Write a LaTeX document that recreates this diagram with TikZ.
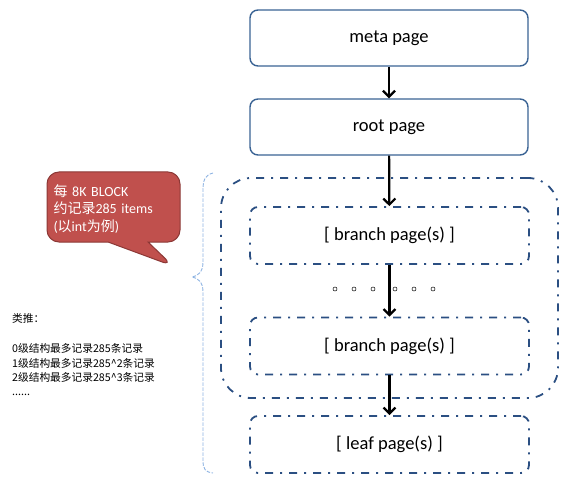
\documentclass[tikz,border=0pt]{standalone}
\usepackage{fontspec}
\setmainfont{Carlito}
\newfontfamily\cjkfont{Noto Sans CJK SC}
\usetikzlibrary{arrows.meta}
\usetikzlibrary{shapes.callouts}
\definecolor{boxline}{HTML}{3A6394}
\definecolor{dashline}{HTML}{2B4F82}
\definecolor{bracecol}{HTML}{8DB3E2}
\definecolor{callfill}{HTML}{C0504D}
\definecolor{callline}{HTML}{8C3836}
\newcommand{\zh}[1]{{\cjkfont #1}}

\begin{document}
\begin{tikzpicture}[
  x=1pt, y=-1pt,
  font=\fontsize{18.5}{22}\selectfont,
  pagebox/.style={draw=boxline, line width=1.4pt, rounded corners=8pt,
    minimum width=278pt, minimum height=56pt, fill=white},
  dashbox/.style={draw=dashline, line width=1.8pt, rounded corners=8pt,
    minimum width=279pt, minimum height=57pt,
    dash pattern=on 8pt off 7pt on 2pt off 7pt},
  arrow/.style={-{Straight Barb[length=6pt,width=12pt]}, line width=2.2pt, black},
  dotmark/.style={circle, draw, line width=0.5pt, inner sep=0pt, minimum size=4pt}
]
\useasboundingbox (0,0) rectangle (568,500);

% outer group of branch levels
\node[draw=dashline, line width=1.8pt, rounded corners=30pt,
  dash pattern=on 8pt off 7pt on 2pt off 7pt,
  minimum width=337pt, minimum height=220pt] (group) at (389.5,288) {};

% page boxes
\node[pagebox] (meta) at (389,38) {meta page};
\node[pagebox] (root) at (389,127) {root page};
\node[dashbox] (branchA) at (389.5,235.5) {[ branch page(s) ]};
\node[dashbox] (branchB) at (389.5,346) {[ branch page(s) ]};
\node[dashbox] (leaf) at (389.5,444.5) {[ leaf page(s) ]};

\draw[arrow] (meta) -- (root);
\draw[arrow] (root) -- (branchA);
\draw[arrow] (branchA) -- (branchB);
\draw[arrow] (branchB) -- (leaf);

% dots between branch levels
\foreach \dx [count=\i] in {335,354,373,395,414,433}
  \node[dotmark] (dot\i) at (\dx,289) {};

% brace on the left
\draw[bracecol, line width=0.9pt, dash pattern=on 3.5pt off 1.5pt]
  (213,173) .. controls (205,175) and (203,180) .. (203,190)
  -- (203,262) .. controls (203,272) and (198,276) .. (192,277)
  .. controls (198,278) and (203,282) .. (203,292)
  -- (203,460) .. controls (203,469) and (205,472) .. (213,473);

% callout
\node[rectangle callout, fill=callfill, draw=callline, line width=1pt,
  rounded corners=12pt, minimum width=133pt, minimum height=70pt,
  callout absolute pointer={(173,266)}, callout pointer width=40pt,
  text=white, align=left, text width=120pt, inner sep=0pt,
  font=\fontsize{14}{17.5}\selectfont] (note) at (113.5,207)
  {\rule{0pt}{15pt}\zh{每} 8K BLOCK\\\zh{约记录}285 items\\(\zh{以}int\zh{为例})};

% left text
\node[anchor=north west, align=left, inner sep=0pt,
  font=\cjkfont\fontsize{10.7}{14.3}\selectfont] (hint) at (12,313)
  {类推：\\[16.5pt]0级结构最多记录285条记录\\1级结构最多记录285\^{}2条记录\\2级结构最多记录285\^{}3条记录\\......};

\end{tikzpicture}
\end{document}
